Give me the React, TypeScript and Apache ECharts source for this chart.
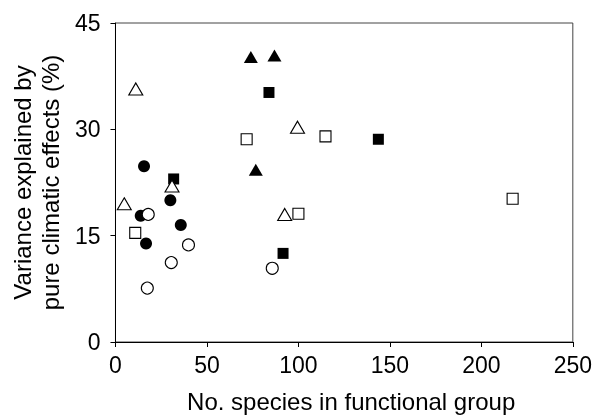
import React, { useEffect, useRef } from "react";
import * as echarts from "echarts";

// Data: [No. species, Variance explained (%)]
const filledCircles: [number, number][] = [
  [15.6, 24.8], [30.0, 20.0], [13.8, 17.8], [35.7, 16.5], [16.7, 13.9],
];
const openCircles: [number, number][] = [
  [17.9, 18.0], [39.9, 13.7], [30.5, 11.2], [17.4, 7.6], [85.7, 10.4],
];
const filledSquares: [number, number][] = [
  [83.9, 35.2], [31.8, 23.0], [91.6, 12.5], [143.7, 28.6],
];
const openSquares: [number, number][] = [
  [71.7, 28.6], [10.8, 15.4], [100.0, 18.1], [114.8, 29.0], [217.1, 20.2],
];
const filledTriangles: [number, number][] = [
  [74.0, 40.2], [86.9, 40.4], [76.7, 24.3],
];
const openTriangles: [number, number][] = [
  [11.1, 35.7], [99.5, 30.3], [30.9, 22.0], [4.8, 19.5], [92.5, 18.0],
];

const xTicks = [0, 50, 100, 150, 200, 250];
const yTicks = [0, 15, 30, 45];

const FONT = "'Liberation Sans', Arial, Helvetica, sans-serif";

export default function App() {
  const ref = useRef<HTMLDivElement>(null);
  useEffect(() => {
    if (!ref.current) return;
    const chart = echarts.init(ref.current, undefined, { renderer: "svg" });
    const mk = (
      name: string,
      data: [number, number][],
      symbol: string,
      size: number | number[],
      filled: boolean
    ) => ({
      name,
      type: "scatter",
      data,
      symbol,
      symbolSize: size,
      itemStyle: {
        color: filled ? "#000" : "#fff",
        borderColor: "#000",
        borderWidth: filled ? 0 : 1.1,
        opacity: 1,
      },
      emphasis: { disabled: true },
    });
    chart.setOption({
      animation: false,
      textStyle: { fontFamily: FONT },
      grid: {
        left: 112,
        right: 20,
        top: 23,
        bottom: 69,
        show: true,
        borderColor: "#444",
        borderWidth: 1,
        backgroundColor: "transparent",
      },
      xAxis: {
        type: "value",
        min: xTicks[0],
        max: xTicks[xTicks.length - 1],
        interval: 50,
        splitLine: { show: false },
        axisLine: { lineStyle: { color: "#000", width: 1 } },
        axisTick: { show: true, inside: false, length: 5, lineStyle: { color: "#000" } },
        axisLabel: { color: "#000", fontSize: 23, margin: 11, fontFamily: FONT },
        name: "No. species in functional group",
        nameLocation: "middle",
        nameGap: 47,
        nameTextStyle: { color: "#000", fontSize: 24, fontFamily: FONT, padding: [0, 0, 0, 14] },
      },
      yAxis: {
        type: "value",
        min: yTicks[0],
        max: yTicks[yTicks.length - 1],
        interval: 15,
        splitLine: { show: false },
        axisLine: { lineStyle: { color: "#000", width: 1 } },
        axisTick: { show: true, inside: false, length: 5, lineStyle: { color: "#000" } },
        axisLabel: { color: "#000", fontSize: 23, margin: 15, fontFamily: FONT },
        name: "Variance explained by\npure climatic effects (%)",
        nameLocation: "middle",
        nameGap: 46,
        nameRotate: 90,
        nameTextStyle: { color: "#000", fontSize: 24, lineHeight: 28, fontFamily: FONT },
      },
      series: [
        mk("filledCircles", filledCircles, "circle", 12, true),
        mk("openCircles", openCircles, "circle", 12, false),
        mk("filledSquares", filledSquares, "rect", 11, true),
        mk("openSquares", openSquares, "rect", 11, false),
        mk("filledTriangles", filledTriangles, "triangle", [14, 12], true),
        mk("openTriangles", openTriangles, "triangle", [14, 12], false),
      ],
    });
    return () => chart.dispose();
  }, []);
  return (
    <div
      ref={ref}
      style={{ position: "fixed", left: 0, top: 0, width: 595, height: 418 }}
    />
  );
}
